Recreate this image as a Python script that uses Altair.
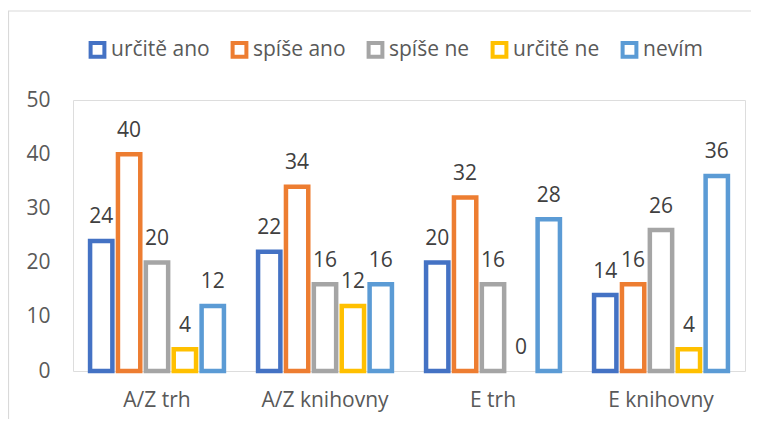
import altair as alt
import pandas as pd

categories = ["A/Z trh", "A/Z knihovny", "E trh", "E knihovny"]
series = ["určitě ano", "spíše ano", "spíše ne", "určitě ne", "nevím"]
colors = ["#4472C4", "#ED7D31", "#A5A5A5", "#FFC000", "#5B9BD5"]
values = {
    "určitě ano": [24, 22, 20, 14],
    "spíše ano": [40, 34, 32, 16],
    "spíše ne": [20, 16, 16, 26],
    "určitě ne": [4, 12, 0, 4],
    "nevím": [12, 16, 28, 36],
}

rows = []
for s in series:
    for c, v in zip(categories, values[s]):
        rows.append({"cat": c, "series": s, "value": v})
df = pd.DataFrame(rows)

FONT = "Open Sans"
FS = 21
x_enc = alt.X("cat:N", sort=categories, title=None,
              scale=alt.Scale(paddingInner=0.17, paddingOuter=0.085),
              axis=alt.Axis(labelAngle=0, ticks=False, domain=False, labelFont=FONT,
                            labelFontSize=FS, labelColor="#595959", labelPadding=18))
xo_enc = alt.XOffset("series:N", sort=series,
                     scale=alt.Scale(paddingInner=0.2, paddingOuter=0.1))
y_enc = alt.Y("value:Q", title=None,
              scale=alt.Scale(domain=[0, 50], nice=False),
              axis=alt.Axis(values=[0, 10, 20, 30, 40, 50], grid=False, ticks=False, domain=False,
                            labelFont=FONT, labelFontSize=FS, labelColor="#595959",
                            labelPadding=23))

base = alt.Chart(df)

bars = base.transform_filter("datum.value > 0").mark_bar(
    fill="white", strokeWidth=4.5
).encode(
    x=x_enc, xOffset=xo_enc, y=y_enc,
    stroke=alt.Stroke("series:N", sort=series,
                      scale=alt.Scale(domain=series, range=colors),
                      legend=alt.Legend(title=None, orient="none", direction="horizontal",
                                        legendX=14, legendY=-61, symbolType="square",
                                        symbolSize=190, symbolFillColor="white",
                                        symbolStrokeWidth=4, labelFont=FONT,
                                        labelFontSize=FS, labelColor="#595959",
                                        labelOffset=3, columnPadding=14)),
)

labels = base.mark_text(dy=-17.5, baseline="alphabetic", font=FONT, fontSize=FS,
                        color="#404040").encode(
    x=x_enc, xOffset=xo_enc, y=y_enc, text=alt.Text("value:Q"),
)

border_top = alt.Chart(pd.DataFrame({"a": [0]})).mark_rule(color="#D9D9D9", strokeWidth=1.2).encode(
    x=alt.value(-65), x2=alt.value(700), y=alt.value(-89)
)
border_left = alt.Chart(pd.DataFrame({"a": [0]})).mark_rule(color="#D9D9D9", strokeWidth=1.2).encode(
    x=alt.value(-64.5), y=alt.value(-89), y2=alt.value(330)
)

chart = alt.layer(border_top, border_left, bars, labels).properties(
    width=672, height=271,
    autosize=alt.AutoSizeParams(type="none"),
    padding={"left": 65, "top": 92, "right": 6, "bottom": 48},
).configure_view(stroke=None).configure(background="white")

chart.save("out.html", embed_options={"renderer": "svg", "actions": False})
